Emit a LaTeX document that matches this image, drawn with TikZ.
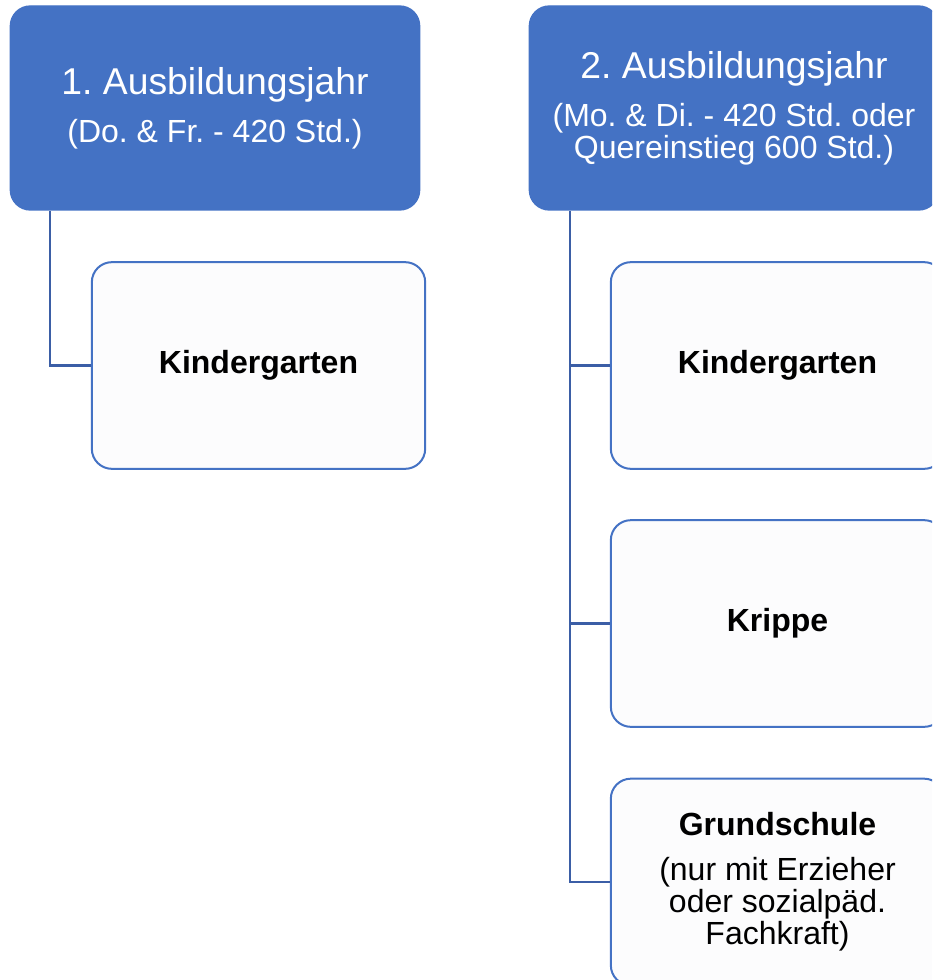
\documentclass[tikz,border=0pt]{standalone}
\usepackage{fontspec}
\setmainfont{Liberation Sans}
\frenchspacing
\definecolor{jahrblau}{HTML}{4472C4}
\definecolor{linienblau}{HTML}{3B5EA6}
\definecolor{ortweiss}{HTML}{FCFCFD}
\tikzset{
  jahr/.style={draw=jahrblau, fill=jahrblau, text=white, rounded corners=15pt, line width=1pt,
    minimum width=307pt, minimum height=153pt, align=center, inner sep=0pt,
    font=\fontsize{24}{24}\selectfont},
  ort/.style={draw=jahrblau, fill=ortweiss, rounded corners=15pt, line width=1.5pt,
    minimum width=250pt, minimum height=155pt, align=center, inner sep=0pt,
    font=\fontsize{24}{24}\selectfont},
  ast/.style={draw=linienblau, line width=1.6pt}
}
\begin{document}
\begin{tikzpicture}[x=0.75pt,y=-0.75pt]
  \useasboundingbox (0,0) rectangle (932,980);
  \clip (0,0) rectangle (932,980);
  \coordinate (stamm1) at (50,0); %linke Linie
  \coordinate (stamm2) at (570,0); %rechte Linie
  \node[jahr] (jahr1) at (215,108) {{\fontsize{28}{28}\selectfont 1. Ausbildungsjahr}\\[12pt](Do. \& Fr. - 420 Std.)};
  \node[jahr] (jahr2) at (734,108) {{\fontsize{28}{28}\selectfont 2. Ausbildungsjahr}\\[12pt](Mo. \& Di. - 420 Std. oder\\Quereinstieg 600 Std.)};
  \node[ort] (kiga1) at (258.5,365.5) {\textbf{Kindergarten}};
  \node[ort] (kiga2) at (777.5,365.5) {\textbf{Kindergarten}};
  \node[ort] (krippe) at (777.5,623.5) {\textbf{Krippe}};
  \node[ort] (schule) at (777.5,882) {\textbf{Grundschule}\\[10pt](nur mit Erzieher\\oder sozialpäd.\\Fachkraft)};
  \draw[ast] (jahr1.south -| stamm1) |- (kiga1.west);
  \draw[ast] (jahr2.south -| stamm2) |- (schule.west);
  \draw[ast] (kiga2.west) -- (kiga2.west -| stamm2);
  \draw[ast] (krippe.west) -- (krippe.west -| stamm2);
\end{tikzpicture}
\end{document}
